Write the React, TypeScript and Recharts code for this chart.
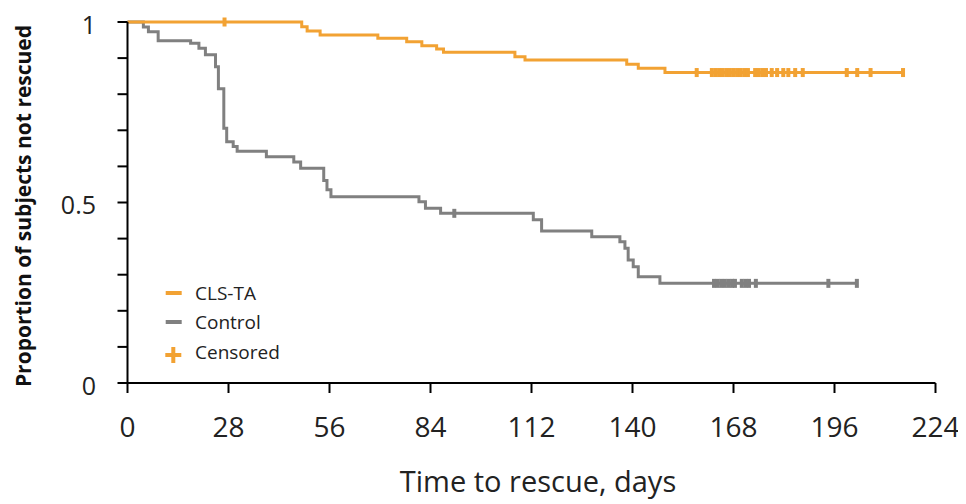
import React from 'react';
import { ComposedChart, Line, Scatter, XAxis, YAxis, Label } from 'recharts';

// ---- data ----
const xTicks = [0, 28, 56, 84, 112, 140, 168, 196, 224];
const yTicks = [0, 0.1, 0.2, 0.3, 0.4, 0.5, 0.6, 0.7, 0.8, 0.9, 1];
const yTickLabels: Record<string, string> = { '0': '0', '0.5': '0.5', '1': '1' };

const seriesNames = ['CLS-TA', 'Control', 'Censored'];

const clsDays = [0, 48.3, 49.8, 53.4, 69.4, 77.4, 81.6, 85.7, 87.6, 107.4, 110.2, 138.4, 141.6, 149, 215];
const clsValues = [1, 0.987, 0.975, 0.964, 0.955, 0.945, 0.934, 0.925, 0.916, 0.904, 0.895, 0.883, 0.872, 0.86, 0.86];
const clsCensored = [26.9, 157.8, 162, 163, 164, 165, 166, 167, 168, 169, 170, 171, 172, 174, 175, 176, 177, 178.6, 180.1, 181.8, 183.2, 185.1, 187.2, 199.4, 202.3, 206, 215];

const ctlDays = [0, 4.4, 5.8, 8.5, 17.5, 19.8, 21.6, 24.4, 25.2, 26.7, 27.5, 29.3, 30.4, 38.5, 46.1, 48, 54.4, 55.3, 56.4, 80.8, 82.6, 86.8, 112.5, 114.8, 128.7, 136.5, 137.9, 138.8, 140.2, 141.6, 147.6, 202.2];
const ctlValues = [1, 0.986, 0.973, 0.948, 0.941, 0.927, 0.909, 0.876, 0.815, 0.706, 0.668, 0.655, 0.642, 0.627, 0.612, 0.595, 0.561, 0.535, 0.516, 0.502, 0.484, 0.47, 0.452, 0.421, 0.405, 0.391, 0.373, 0.341, 0.322, 0.294, 0.276, 0.276];
const ctlCensored = [90.6, 162.6, 163.6, 164.6, 165.6, 166.6, 167.6, 168.4, 170.3, 171.3, 172.3, 174.2, 194.3, 202.2];

// ---- styles ----
const ORANGE = '#F2A233';
const GRAY = '#808080';
const TEXT = '#222';
const FONT = '"Open Sans", sans-serif';

const toPoints = (days: number[], values: number[]) => days.map((d, i) => ({ x: d, y: values[i] }));
const stepValue = (days: number[], values: number[], d: number) => {
  let v = values[0];
  for (let i = 0; i < days.length; i++) if (days[i] <= d) v = values[i];
  return v;
};
const censorPoints = (cens: number[], days: number[], values: number[]) =>
  cens.map((d) => ({ x: d, y: stepValue(days, values, d) }));

const clsData = toPoints(clsDays, clsValues);
const ctlData = toPoints(ctlDays, ctlValues);
const clsCens = censorPoints(clsCensored, clsDays, clsValues);
const ctlCens = censorPoints(ctlCensored, ctlDays, ctlValues);

const makeMark = (color: string) => (p: any) => (
  <rect x={p.cx - 2} y={p.cy - 4.5} width={4} height={9} fill={color} />
);

const XTick = (p: any) => (
  <text x={p.x} y={p.y} dy="0.71em" textAnchor="middle" fontSize={28} fontFamily={FONT} fill={TEXT}>
    {p.payload.value}
  </text>
);

const YTick = (p: any) => {
  const key = String(Math.round(p.payload.value * 10) / 10);
  const label = yTickLabels[key];
  if (!label) return <g />;
  return (
    <text x={p.x} y={p.y + 3} dy="0.355em" textAnchor="end" fontSize={25} fontFamily={FONT} fill={TEXT}>
      {label}
    </text>
  );
};

const LegendBox = () => (
  <svg width={140} height={92} style={{ position: 'absolute', left: 150, top: 268 }}>
    <line x1={7.7} x2={23.7} y1={17} y2={17} stroke={ORANGE} strokeWidth={4} />
    <text x={37} y={17} dy="0.355em" fontSize={19} fontFamily={FONT} fill={TEXT}>{seriesNames[0]}</text>
    <line x1={7.7} x2={23.7} y1={46} y2={46} stroke={GRAY} strokeWidth={4} />
    <text x={37} y={46} dy="0.355em" fontSize={19} fontFamily={FONT} fill={TEXT}>{seriesNames[1]}</text>
    <rect x={7.3} y={77} width={16} height={4} fill={ORANGE} />
    <rect x={13.3} y={71} width={4} height={16} fill={ORANGE} />
    <text x={37} y={76} dy="0.355em" fontSize={19} fontFamily={FONT} fill={TEXT}>{seriesNames[2]}</text>
  </svg>
);

export default function App() {
  return (
    <div style={{ position: 'relative', width: 958, height: 496 }}>
      <ComposedChart width={958} height={496} margin={{ top: 14, right: 30.5, left: 0, bottom: 6 }}>
        <XAxis
          type="number"
          dataKey="x"
          domain={[0, 224]}
          ticks={xTicks}
          interval={0}
          height={115}
          tickSize={10}
          tickMargin={24}
          axisLine={{ stroke: '#000', strokeWidth: 2 }}
          tickLine={{ stroke: '#000', strokeWidth: 2 }}
          tick={<XTick />}
        >
          <Label
            content={() => (
              <text x={530} y={483.7} textAnchor="middle" fontSize={29} fontFamily={FONT} fill={TEXT}>
                Time to rescue, days
              </text>
            )}
          />
        </XAxis>
        <YAxis
          type="number"
          dataKey="y"
          domain={[0, 1]}
          ticks={yTicks}
          interval={0}
          width={119.5}
          tickSize={10}
          tickMargin={21.5}
          axisLine={{ stroke: '#000', strokeWidth: 2 }}
          tickLine={{ stroke: '#000', strokeWidth: 2 }}
          tick={<YTick />}
        >
          <Label
            content={() => (
              <text
                x={23}
                y={198}
                transform="rotate(-90, 23, 198)"
                textAnchor="middle"
                fontSize={21}
                fontWeight="bold"
                fontFamily={FONT}
                fill="#111"
              >
                Proportion of subjects not rescued
              </text>
            )}
          />
        </YAxis>
        <Line data={ctlData} dataKey="y" type="stepAfter" stroke={GRAY} strokeWidth={3} dot={false} isAnimationActive={false} />
        <Line data={clsData} dataKey="y" type="stepAfter" stroke={ORANGE} strokeWidth={3} dot={false} isAnimationActive={false} />
        <Scatter data={ctlCens} dataKey="y" shape={makeMark(GRAY)} isAnimationActive={false} />
        <Scatter data={clsCens} dataKey="y" shape={makeMark(ORANGE)} isAnimationActive={false} />
      </ComposedChart>
      <LegendBox />
    </div>
  );
}
